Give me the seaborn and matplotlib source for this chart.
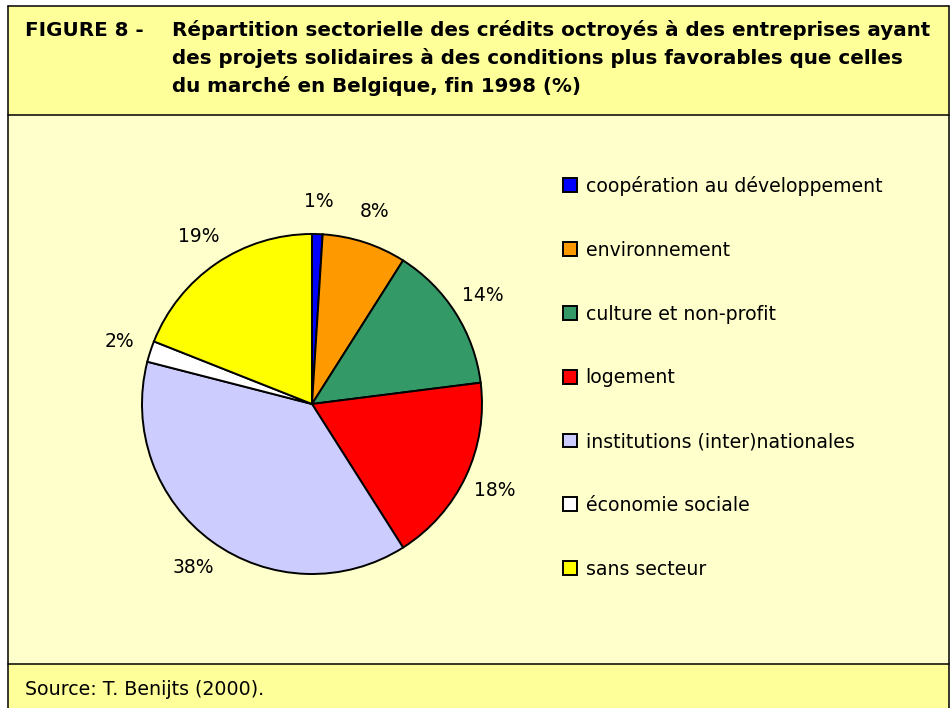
import matplotlib
matplotlib.use('Agg')
import matplotlib.pyplot as plt
import seaborn as sns
from matplotlib.patches import Rectangle

# Data
categories = [
    'coopération au développement',
    'environnement',
    'culture et non-profit',
    'logement',
    'institutions (inter)nationales',
    'économie sociale',
    'sans secteur',
]
shares = [1, 8, 14, 18, 38, 2, 19]
slice_colors = ['#0000FF', '#FF9900', '#339966', '#FF0000', '#CCCCFF', '#FFFFFF', '#FFFF00']

title_tag = 'FIGURE 8 -'
title_lines = [
    'Répartition sectorielle des crédits octroyés à des entreprises ayant',
    'des projets solidaires à des conditions plus favorables que celles',
    'du marché en Belgique, fin 1998 (%)',
]
source_text = 'Source: T. Benijts (2000).'

W, H = 950, 708

sns.set_theme(style='white')
plt.rcParams['font.family'] = ['DejaVu Sans']
plt.rcParams['text.color'] = 'black'


def fx(px):
    return px / W


def fy(py):
    # pixel row (from top) -> figure fraction (from bottom)
    return 1 - py / H


fig = plt.figure(figsize=(W / 100, H / 100), dpi=100)
fig.patch.set_facecolor('white')

# background panels: header, body, footer
panels = [(6, 115, '#FFFF99'), (115, 664, '#FFFFCC'), (664, 712, '#FFFF99')]
for top, bottom, col in panels:
    fig.patches.append(Rectangle((fx(8), fy(bottom)), fx(949 - 8), (bottom - top) / H,
                                 transform=fig.transFigure, facecolor=col,
                                 edgecolor='none', zorder=-2))
for py in [6, 115, 664]:
    fig.add_artist(plt.Line2D([fx(8), fx(949)], [fy(py), fy(py)], color='black',
                              lw=1.1, transform=fig.transFigure, zorder=-1))
for px in [8, 949]:
    fig.add_artist(plt.Line2D([fx(px), fx(px)], [fy(6), 0], color='black',
                              lw=1.1, transform=fig.transFigure, zorder=-1))

# title
fig.text(fx(25), fy(36), title_tag, fontsize=14.3, fontweight='bold', va='baseline')
for i, line in enumerate(title_lines):
    fig.text(fx(172), fy(36 + 28 * i), line, fontsize=14.3, fontweight='bold', va='baseline')

# source
fig.text(fx(25), fy(695), source_text, fontsize=13.7, va='baseline')

# pie
cx, cy, r = 312, 404, 170
ax = fig.add_axes([fx(cx - r), fy(cy + r), 2 * r / W, 2 * r / H])
pct_labels = [f'{v}%' for v in shares]
wedges, texts = ax.pie(shares, colors=slice_colors, startangle=90, counterclock=False,
                       labels=pct_labels, labeldistance=1.19,
                       wedgeprops=dict(edgecolor='black', linewidth=1.4),
                       textprops=dict(fontsize=13.5, color='black'))
for t in texts:
    t.set_ha('center')
    t.set_va('center')
ax.set_xlim(-1, 1)
ax.set_ylim(-1, 1)
ax.axis('off')

# legend
fig.legend(wedges, categories, loc='upper left', bbox_to_anchor=(fx(563), fy(176)),
           frameon=False, fontsize=13.6, handlelength=0.75, handleheight=0.75,
           handletextpad=0.45, labelspacing=2.37, borderpad=0, borderaxespad=0)

fig.savefig('out.png', dpi=100)
